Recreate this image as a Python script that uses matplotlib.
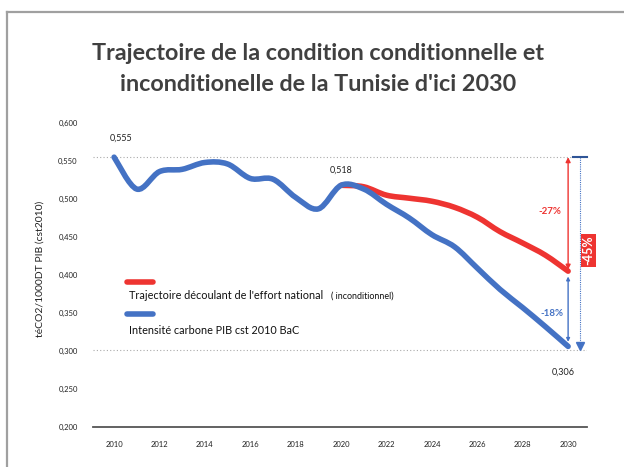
import matplotlib.pyplot as plt
import numpy as np
from matplotlib.lines import Line2D
from matplotlib.path import Path
from matplotlib.patches import PathPatch

# data
years_bau = list(range(2010, 2031))
intensite_bau = [0.555, 0.513, 0.536, 0.539, 0.548, 0.546, 0.527, 0.526, 0.502, 0.487, 0.518,
                 0.513, 0.493, 0.475, 0.453, 0.437, 0.409, 0.381, 0.357, 0.332, 0.306]
years_effort = list(range(2020, 2031))
trajectoire_effort = [0.518, 0.516, 0.505, 0.501, 0.497, 0.489, 0.476, 0.457, 0.442, 0.426, 0.405]
xticks = list(range(2010, 2031, 2))
yticks = [0.200, 0.250, 0.300, 0.350, 0.400, 0.450, 0.500, 0.550, 0.600]
pct_effort = "-27%"
pct_cond = "-18%"
pct_total = "-45%"

BLUE = "#4472c4"
RED = "#ee3431"
plt.rcParams['font.family'] = ['Lato', 'DejaVu Sans']


def smooth_path(x, y, t=1 / 6):
    # Excel-like smoothed line: catmull-rom segments as cubic beziers
    x = np.asarray(x, float)
    y = np.asarray(y, float)
    verts = [(x[0], y[0])]
    codes = [Path.MOVETO]
    n = len(x)
    for i in range(n - 1):
        p0 = np.array([x[max(i - 1, 0)], y[max(i - 1, 0)]])
        p1 = np.array([x[i], y[i]])
        p2 = np.array([x[i + 1], y[i + 1]])
        p3 = np.array([x[min(i + 2, n - 1)], y[min(i + 2, n - 1)]])
        c1 = p1 + (p2 - p0) * t
        c2 = p2 - (p3 - p1) * t
        verts += [tuple(c1), tuple(c2), tuple(p2)]
        codes += [Path.CURVE4] * 3
    return Path(verts, codes)


fig = plt.figure(figsize=(6.24, 4.67), dpi=100)
ax = fig.add_axes([0.149, 0.0857, 0.792, 0.651])

ax.add_patch(PathPatch(smooth_path(years_effort, trajectoire_effort), fill=False,
                       edgecolor=RED, lw=4.0, capstyle='round', zorder=3))
ax.add_patch(PathPatch(smooth_path(years_bau, intensite_bau), fill=False,
                       edgecolor=BLUE, lw=4.0, capstyle='round', zorder=4))

ax.set_xlim(2009.07, 2030.84)
ax.set_ylim(0.2, 0.6)
ax.set_xticks(xticks)
ax.set_yticks(yticks)
ax.set_yticklabels([f"{v:.3f}".replace('.', ',') for v in yticks])
ax.tick_params(axis='both', length=0, labelsize=5.5, colors='#222222')
ax.tick_params(axis='x', pad=10)
ax.tick_params(axis='y', pad=11)
for s in ['top', 'right', 'left']:
    ax.spines[s].set_visible(False)
ax.spines['bottom'].set_color('#555555')
ax.spines['bottom'].set_linewidth(1.3)

# dotted reference lines
ax.axhline(intensite_bau[0], color='#aaaaaa', ls=(0, (1, 2)), lw=0.8, zorder=1)
ax.axhline(0.301, color='#aaaaaa', ls=(0, (1, 2)), lw=0.8, zorder=1)

ax.set_ylabel("téCO2/1000DT PIB (cst2010)", fontsize=7.5, color='#222222')
ax.yaxis.set_label_coords(-0.097, 0.52)

# value labels
ax.text(years_bau[0] + 0.3, 0.580, f"{intensite_bau[0]:.3f}".replace('.', ','),
        ha='center', va='center', fontsize=6.5, color='#222222')
ax.text(2020, 0.538, f"{trajectoire_effort[0]:.3f}".replace('.', ','),
        ha='center', va='center', fontsize=6.5, color='#222222')
ax.text(years_bau[-1] - 0.2, 0.272, f"{intensite_bau[-1]:.3f}".replace('.', ','),
        ha='center', va='center', fontsize=6.5, color='#222222')

# arrows at 2030
x_end = years_bau[-1]
ax.annotate("", xy=(x_end, trajectoire_effort[-1] + 0.002), xytext=(x_end, intensite_bau[0]),
            arrowprops=dict(arrowstyle='<|-|>', color=RED, lw=1.0, mutation_scale=7,
                            shrinkA=0, shrinkB=0), zorder=5)
ax.annotate("", xy=(x_end, intensite_bau[-1] + 0.006), xytext=(x_end, trajectoire_effort[-1] - 0.007),
            arrowprops=dict(arrowstyle='<|-|>', color=BLUE, lw=1.0, mutation_scale=5,
                            shrinkA=0, shrinkB=0), zorder=5)
ax.text(x_end - 0.8, 0.484, pct_effort, color=RED, fontsize=7, fontweight='bold',
        ha='center', va='center')
ax.text(x_end - 0.7, 0.349, pct_cond, color=BLUE, fontsize=7, fontweight='bold',
        ha='center', va='center')

x_tot = x_end + 0.53
ax.plot([x_tot, x_tot], [intensite_bau[0], 0.306], color=BLUE, ls=(0, (1, 1)), lw=0.8,
        clip_on=False, zorder=5)
ax.plot([x_tot], [0.306], marker='v', color=BLUE, ms=6, clip_on=False, zorder=5)
ax.plot([x_end + 0.22, x_end + 0.84], [intensite_bau[0]] * 2, color='#2f5597', lw=1.5,
        clip_on=False, zorder=5)
ax.text(x_end + 0.9, 0.432, pct_total, rotation=90, color='white', fontsize=9,
        fontweight='bold', ha='center', va='center', clip_on=False, zorder=6,
        bbox=dict(boxstyle='square,pad=0.15', fc=RED, ec='none'))

# legend drawn by hand
ax.add_line(Line2D([0.069, 0.121], [0.477, 0.477], transform=ax.transAxes, color=RED,
                   lw=4.0, solid_capstyle='round'))
ax.text(0.073, 0.431, "Trajectoire découlant de l'effort national", transform=ax.transAxes,
        fontsize=7.8, va='center', color='#111111')
ax.text(0.481, 0.431, "( inconditionnel)", transform=ax.transAxes,
        fontsize=6.4, va='center', color='#111111')
ax.add_line(Line2D([0.069, 0.121], [0.372, 0.372], transform=ax.transAxes, color=BLUE,
                   lw=4.0, solid_capstyle='round'))
ax.text(0.073, 0.316, "Intensité carbone PIB cst 2010 BaC", transform=ax.transAxes,
        fontsize=7.8, va='center', color='#111111')

fig.text(0.51, 0.885, "Trajectoire de la condition conditionnelle et", ha='center', va='center',
         fontsize=16.8, fontweight='bold', color='#404040')
fig.text(0.51, 0.818, "inconditionelle de la Tunisie d'ici 2030", ha='center', va='center',
         fontsize=16.8, fontweight='bold', color='#404040')

# grey frame (left and top edges)
fig.add_artist(Line2D([0.0106, 0.0106], [0, 0.974], color='#a0a0a0', lw=1.6))
fig.add_artist(Line2D([0.0106, 1.0], [0.974, 0.974], color='#a0a0a0', lw=1.6))

fig.savefig("out.png", dpi=100)
